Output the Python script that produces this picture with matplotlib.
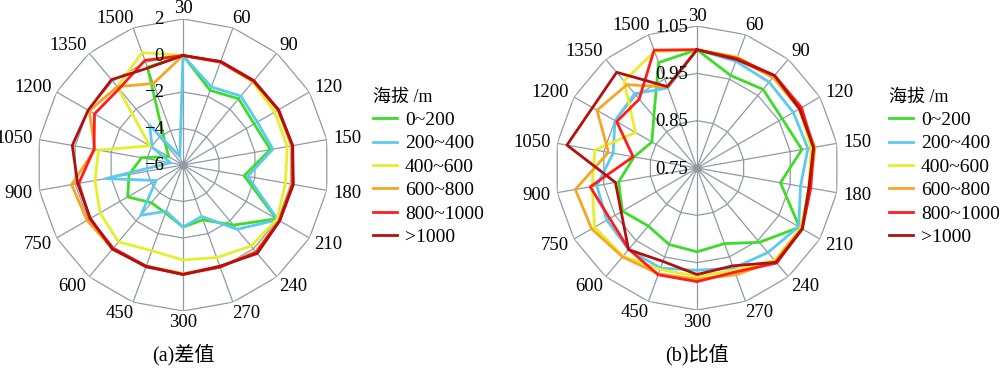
import numpy as np
import matplotlib
matplotlib.use('Agg')
import matplotlib.pyplot as plt

plt.rcParams['font.family'] = ['Liberation Serif', 'Noto Sans CJK SC']
plt.rcParams['axes.unicode_minus'] = True

# categories (clockwise from top)
cats = ['30', '60', '90', '120', '150', '180', '210', '240', '270', '300',
        '450', '600', '750', '900', '1050', '1200', '1350', '1500']
series_names = ['0~200', '200~400', '400~600', '600~800', '800~1000', '>1000']
colors = ['#3cdc28', '#5ccaf0', '#e6ef2c', '#f6a623', '#ff1c1c', '#b30f0f']

# (a) difference
diff_0_200 = [0, -1.65, -1.26, -1.5, -1.14, -2.6, -0.1, -1.7, -2.8, -2.6,
              -3.2, -3.3, -2.5, -3.0, -3.7, -5.1, -4.5, -0.3]
diff_200_400 = [0, -1.45, -1.07, -1.3, -1.0, -2.4, 0, -1.4, -3.0, -2.6,
                -3.3, -2.4, -4.3, -1.7, -5.3, -4.05, -3.15, -5.5]
diff_400_600 = [0, 0, -0.05, -0.2, -0.2, -0.3, -0.05, -0.2, -0.6, -0.8,
                -1.0, -0.5, -0.75, -1.1, -1.3, -3.9, -0.4, 0.55]
diff_600_800 = [0, 0, 0, 0, 0.05, 0.05, 0.1, 0.2, -0.05, -0.05,
                -0.1, 0, 0.07, 0.2, -1.1, -0.07, -0.4, -1.25]
diff_800_1000 = [0, 0, 0, 0.05, 0.1, 0.1, 0.1, 0.25, -0.05, 0,
                 -0.1, -0.05, -0.1, -0.2, -1.05, -0.4, -0.55, 0.1]
diff_gt1000 = [0, 0.04, 0.04, 0.04, 0.1, 0.14, 0.12, 0.33, -0.1, 0,
               -0.08, 0.02, -0.14, -0.14, 0.16, 0.0, 0.1, -0.35]

# (b) ratio
ratio_0_200 = [1.0, .958, .967, .958, .975, .929, 1.0, .955, .92, .927,
               .922, .91, .932, .918, .885, .86, .892, .987]
ratio_200_400 = [1.0, .99, .987, .985, .988, .972, .998, .983, .975, .966,
                 .975, .975, .97, .965, .93, .95, .955, .93]
ratio_400_600 = [1.0, 1.0, 1.0, 1.0, .995, .99, 1.003, 1.005, .98, .979,
                 .978, .993, 1.0, .975, .969, .90, .99, 1.012]
ratio_600_800 = [1.0, .995, 1.0, 1.0, 1.003, .993, 1.005, 1.007, .99, .985,
                 .988, .995, 1.007, 1.011, .94, .994, .98, .932]
ratio_800_1000 = [1.0, .997, 1.005, 1.005, 1.0, .994, 1.007, 1.012, .984, .99,
                  .99, .974, .963, .979, .887, .946, .94, 1.015]
ratio_gt1000 = [1.0, .994, 1.005, 1.0, 1.0, .99, 1.007, 1.01, .97, .975,
                .96, .975, .935, .925, 1.029, 1.005, 1.014, .933]

diff_ticks = [2, 0, -2, -4, -6]
diff_tick_labels = ['2', '0', '\u22122', '\u22124', '\u22126']
ratio_ticks = [1.05, 0.95, 0.85, 0.75]
ratio_tick_labels = ['1.05', '0.95', '0.85', '0.75']

angles = np.linspace(0, 2 * np.pi, len(cats), endpoint=False)
ang_closed = np.append(angles, angles[0])

fig = plt.figure(figsize=(10, 3.75), dpi=100)

GRID = '#8e9ba4'


def spider(rect, data, rmin, rmax, rings, ticks, tick_labels, tick_dx, lab_d):
    ax = fig.add_axes(rect, projection='polar')
    ax.set_theta_zero_location('N')
    ax.set_theta_direction(-1)
    ax.set_ylim(rmin, rmax)
    ax.grid(False)
    ax.spines['polar'].set_visible(False)
    ax.set_xticks([])
    ax.set_yticks([])
    ax.patch.set_alpha(0)
    # polygon web
    for lv in rings:
        ax.plot(ang_closed, [lv] * len(ang_closed), color=GRID, lw=0.9, zorder=1)
    for a in angles:
        ax.plot([a, a], [rmin, rmax], color=GRID, lw=0.9, zorder=1)
    ax.plot([0], [rmin], 'o', color=GRID, ms=5, zorder=1)
    lines = []
    for vals, c in zip(data, colors):
        v = list(vals) + [vals[0]]
        ln, = ax.plot(ang_closed, v, color=c, lw=2.0, zorder=3)
        lines.append(ln)
    # category labels, offset from the centre in pixels
    for a, lab in zip(angles, cats):
        s = np.sin(a)
        shift = 0 if abs(s) < 1e-6 else np.sign(s) * (len(lab) * 4.5 - 4)
        ax.annotate(lab, xy=(a, rmin),
                    xytext=(lab_d * s + shift, lab_d * np.cos(a) - 1),
                    textcoords='offset pixels', ha='center', va='center',
                    fontsize=13.5, zorder=5)
    # radial labels
    for t, lab in zip(ticks, tick_labels):
        ax.annotate(lab, xy=(0, t), xytext=(tick_dx, -1), textcoords='offset pixels',
                    ha='right', va='center', fontsize=13.5, zorder=6)
    return ax, lines


axa, lines_a = spider([0.037, 0.1707, 0.292, 0.7787],
                      [diff_0_200, diff_200_400, diff_400_600, diff_600_800,
                       diff_800_1000, diff_gt1000],
                      -6, 2, [-4, -2, 0, 2], diff_ticks, diff_tick_labels, -19, 157)
axb, lines_b = spider([0.555, 0.1733, 0.284, 0.7573],
                      [ratio_0_200, ratio_200_400, ratio_400_600, ratio_600_800,
                       ratio_800_1000, ratio_gt1000],
                      0.75, 1.05, [0.85, 0.95, 1.05], ratio_ticks, ratio_tick_labels, -9, 153)

for lines, x in [(lines_a, 0.363), (lines_b, 0.879)]:
    leg = fig.legend(lines, series_names, loc='upper left', bbox_to_anchor=(x, 0.79),
                     frameon=False, fontsize=14, title='海拔 /m',
                     title_fontsize=13, alignment='left', handlelength=1.25,
                     handletextpad=0.4, labelspacing=0.3, borderpad=0)

fig.text(0.183, 0.053, '(a)差值', ha='center', va='center', fontsize=14.5)
fig.text(0.697, 0.053, '(b)比值', ha='center', va='center', fontsize=14.5)

fig.savefig('out.png', dpi=100)
